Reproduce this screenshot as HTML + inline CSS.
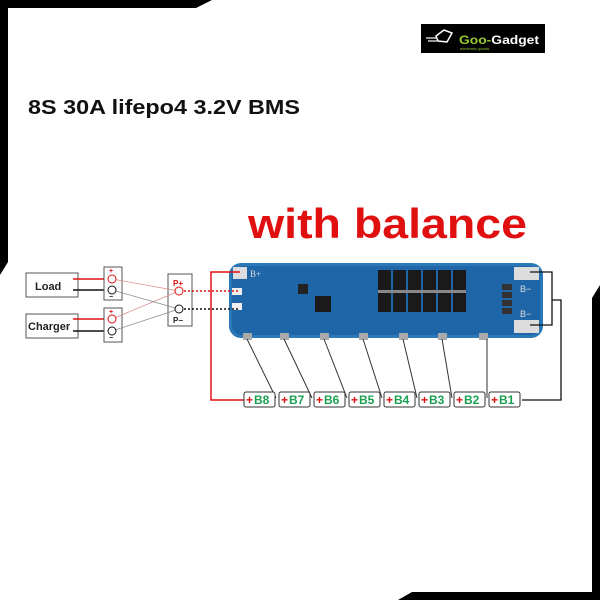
<!DOCTYPE html>
<html><head><meta charset="utf-8"><style>
html,body{margin:0;padding:0;background:#fff;}
svg{display:block;font-family:"Liberation Sans",sans-serif;}
</style></head><body>
<svg width="600" height="600" viewBox="0 0 600 600">
<rect width="600" height="600" fill="#fff"/>
<polygon points="0,0 212,0 196,8 8,8 8,262 0,275" fill="#000"/>
<polygon points="600,285 600,600 398,600 412,592 592,592 592,298" fill="#000"/>
<rect x="421" y="24" width="124" height="29" fill="#000"/>
<polygon points="436,36 444,30 452,33 447,42 438,41" fill="none" stroke="#fff" stroke-width="1.5"/>
<line x1="426" y1="38" x2="436" y2="38" stroke="#fff" stroke-width="1.2"/>
<line x1="428" y1="41" x2="437" y2="41" stroke="#fff" stroke-width="1.2"/>
<text x="459" y="44" font-size="12" font-weight="bold" fill="#9acd32" textLength="80" lengthAdjust="spacingAndGlyphs">Goo-<tspan fill="#fff">Gadget</tspan></text>
<text x="460" y="50" font-size="4" fill="#9acd32">electronic goods</text>
<text x="28" y="114" font-size="20" font-weight="bold" fill="#111" textLength="272" lengthAdjust="spacingAndGlyphs">8S 30A lifepo4 3.2V BMS</text>
<text x="248" y="238" font-size="42" font-weight="bold" fill="#e01010" textLength="279" lengthAdjust="spacingAndGlyphs">with balance</text>
<rect x="229" y="263" width="314" height="75" rx="12" fill="#2a78b8"/>
<rect x="232" y="266" width="308" height="69" rx="10" fill="#1f66a8"/>
<rect x="233" y="267" width="14" height="12" fill="#ddd"/>
<text x="250" y="277" font-size="9" fill="#ddd" font-family="Liberation Serif">B+</text>
<rect x="232" y="288" width="10" height="7" fill="#eee"/>
<rect x="232" y="303" width="10" height="7" fill="#eee"/>
<rect x="298" y="284" width="10" height="10" fill="#222"/>
<rect x="315" y="296" width="16" height="16" fill="#1a1a1a"/>
<g fill="#1a1a1a">
<rect x="378" y="270" width="13" height="42"/><rect x="393" y="270" width="13" height="42"/><rect x="408" y="270" width="13" height="42"/><rect x="423" y="270" width="13" height="42"/><rect x="438" y="270" width="13" height="42"/><rect x="453" y="270" width="13" height="42"/>
</g>
<g fill="#888"><rect x="378" y="290" width="88" height="3"/></g>
<rect x="514" y="267" width="25" height="13" fill="#ddd"/>
<rect x="514" y="320" width="25" height="13" fill="#ddd"/>
<g fill="#333"><rect x="502" y="284" width="10" height="6"/><rect x="502" y="292" width="10" height="6"/><rect x="502" y="300" width="10" height="6"/><rect x="502" y="308" width="10" height="6"/></g>
<text x="520" y="292" font-size="9" fill="#ddd">B−</text>
<text x="520" y="317" font-size="9" fill="#ddd">B−</text>
<g fill="#aaa">
<rect x="243" y="333" width="9" height="7"/><rect x="280" y="333" width="9" height="7"/><rect x="320" y="333" width="9" height="7"/><rect x="359" y="333" width="9" height="7"/><rect x="399" y="333" width="9" height="7"/><rect x="438" y="333" width="9" height="7"/><rect x="479" y="333" width="9" height="7"/>
</g>
<polyline points="240,272 211,272 211,400 244,400" fill="none" stroke="#e01010" stroke-width="1.5"/>
<polyline points="530,272 552,272 552,325 530,325" fill="none" stroke="#111" stroke-width="1.3"/>
<polyline points="552,300 561,300 561,400 522,400" fill="none" stroke="#111" stroke-width="1.3"/>
<g stroke="#333" stroke-width="1">
<line x1="247" y1="339" x2="276" y2="398"/><line x1="284" y1="339" x2="312" y2="398"/><line x1="324" y1="339" x2="347" y2="398"/><line x1="363" y1="339" x2="382" y2="398"/><line x1="403" y1="339" x2="417" y2="398"/><line x1="442" y1="339" x2="452" y2="398"/><line x1="487" y1="339" x2="487" y2="398"/>
</g>
<g font-size="12" font-weight="bold">
<g transform="translate(244,392)"><rect width="31" height="15" rx="2" fill="#fff" stroke="#333"/><text x="2" y="12" fill="#e01010">+</text><text x="10" y="12" fill="#1aa050">B8</text></g>
<g transform="translate(279,392)"><rect width="31" height="15" rx="2" fill="#fff" stroke="#333"/><text x="2" y="12" fill="#e01010">+</text><text x="10" y="12" fill="#1aa050">B7</text></g>
<g transform="translate(314,392)"><rect width="31" height="15" rx="2" fill="#fff" stroke="#333"/><text x="2" y="12" fill="#e01010">+</text><text x="10" y="12" fill="#1aa050">B6</text></g>
<g transform="translate(349,392)"><rect width="31" height="15" rx="2" fill="#fff" stroke="#333"/><text x="2" y="12" fill="#e01010">+</text><text x="10" y="12" fill="#1aa050">B5</text></g>
<g transform="translate(384,392)"><rect width="31" height="15" rx="2" fill="#fff" stroke="#333"/><text x="2" y="12" fill="#e01010">+</text><text x="10" y="12" fill="#1aa050">B4</text></g>
<g transform="translate(419,392)"><rect width="31" height="15" rx="2" fill="#fff" stroke="#333"/><text x="2" y="12" fill="#e01010">+</text><text x="10" y="12" fill="#1aa050">B3</text></g>
<g transform="translate(454,392)"><rect width="31" height="15" rx="2" fill="#fff" stroke="#333"/><text x="2" y="12" fill="#e01010">+</text><text x="10" y="12" fill="#1aa050">B2</text></g>
<g transform="translate(489,392)"><rect width="31" height="15" rx="2" fill="#fff" stroke="#333"/><text x="2" y="12" fill="#e01010">+</text><text x="10" y="12" fill="#1aa050">B1</text></g>
</g>
<rect x="26" y="273" width="52" height="24" fill="#fff" stroke="#555"/>
<text x="35" y="290" font-size="11" font-weight="bold" fill="#222">Load</text>
<rect x="26" y="314" width="52" height="24" fill="#fff" stroke="#555"/>
<text x="28" y="330" font-size="11" font-weight="bold" fill="#222">Charger</text>
<line x1="73" y1="279" x2="112" y2="279" stroke="#e01010" stroke-width="1.5"/>
<line x1="73" y1="290" x2="112" y2="290" stroke="#111" stroke-width="1.5"/>
<line x1="73" y1="319" x2="112" y2="319" stroke="#e01010" stroke-width="1.5"/>
<line x1="73" y1="331" x2="112" y2="331" stroke="#111" stroke-width="1.5"/>
<rect x="104" y="267" width="18" height="33" fill="#fff" stroke="#555"/>
<rect x="104" y="308" width="18" height="34" fill="#fff" stroke="#555"/>
<rect x="168" y="274" width="24" height="52" fill="#fff" stroke="#555"/>
<g stroke-width="0.7" fill="none">
<line x1="112" y1="279" x2="179" y2="291" stroke="#d88"/>
<line x1="112" y1="319" x2="179" y2="291" stroke="#d88"/>
<line x1="112" y1="290" x2="179" y2="309" stroke="#888"/>
<line x1="112" y1="331" x2="179" y2="309" stroke="#888"/>
</g>
<circle cx="112" cy="279" r="4" fill="#fff" stroke="#e01010"/>
<circle cx="112" cy="290" r="4" fill="#fff" stroke="#111"/>
<circle cx="112" cy="319" r="4" fill="#fff" stroke="#e01010"/>
<circle cx="112" cy="331" r="4" fill="#fff" stroke="#111"/>
<text x="109" y="273" font-size="7" font-weight="bold" fill="#e01010">+</text>
<text x="109" y="314" font-size="7" font-weight="bold" fill="#e01010">+</text>
<text x="109" y="299" font-size="7" font-weight="bold" fill="#111">−</text>
<text x="109" y="340" font-size="7" font-weight="bold" fill="#111">−</text>
<text x="173" y="286" font-size="8" font-weight="bold" fill="#e01010">P+</text>
<text x="173" y="323" font-size="8" font-weight="bold" fill="#222">P−</text>
<line x1="184" y1="291" x2="240" y2="291" stroke="#e01010" stroke-width="1.6" stroke-dasharray="2,2"/>
<line x1="184" y1="309" x2="240" y2="309" stroke="#111" stroke-width="1.6" stroke-dasharray="2,2"/>
<circle cx="179" cy="291" r="4" fill="#fff" stroke="#e01010"/>
<circle cx="179" cy="309" r="4" fill="#fff" stroke="#111"/>
</svg>
</body></html>
